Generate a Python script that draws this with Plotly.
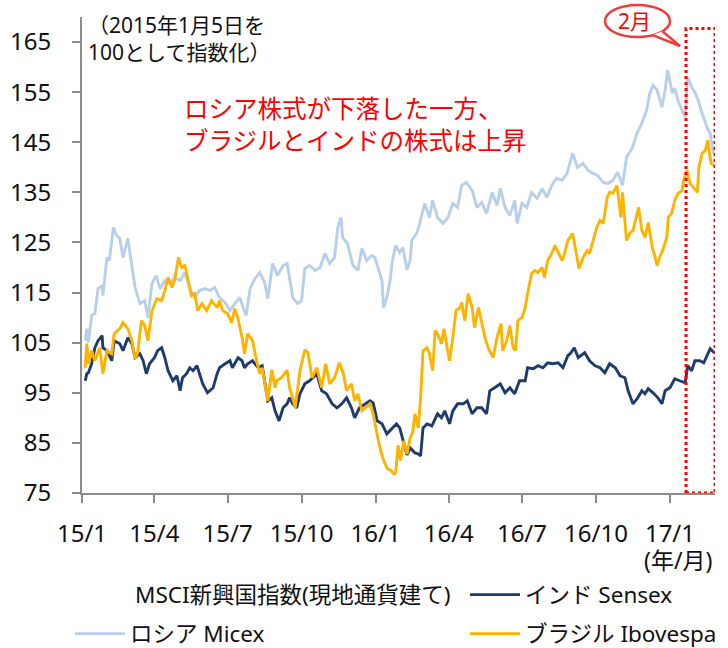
import pandas as pd
import plotly.graph_objects as go

BASE_DATE = "2015-01-01"

# Day offsets from 2015-01-01 and index values (2015/1/5 = 100)
micex_days = [4, 6, 8, 12, 16, 20, 25, 26, 31, 34, 39, 43, 47, 51, 57, 62, 66, 72, 78, 82,
              87, 92, 97, 103, 109, 115, 122, 128, 134, 140, 146, 153, 159, 165, 171, 178, 184, 190, 196, 204,
              209, 215, 221, 227, 231, 237, 243, 250, 255, 258, 262, 268, 273, 277, 283, 290, 296, 302, 308, 314,
              318, 322, 324, 330, 337, 343, 348, 354, 360, 364, 368, 373, 375, 379, 383, 386, 390, 395, 399, 404,
              408, 410, 416, 420, 426, 432, 436, 442, 449, 455, 461, 467, 472, 478, 485, 491, 497, 503, 510, 516,
              520, 526, 532, 538, 541, 547, 553, 559, 566, 572, 578, 584, 590, 597, 603, 610, 616, 623, 629, 635,
              641, 648, 654, 660, 666, 672, 677, 684, 690, 696, 702, 706, 710, 715, 721, 725, 728, 734, 737, 741,
              746, 750, 753, 758, 762, 766, 771, 777, 781, 785]
micex_vals = [105.4, 107.8, 105.0, 110.4, 110.8, 115.8, 116.4, 114.4, 122.0, 121.4, 128.0, 126.4, 125.8, 122.0, 125.8, 120.0, 116.0, 112.8, 113.4, 110.0,
              116.8, 118.4, 115.8, 117.4, 116.8, 118.0, 117.4, 119.0, 116.0, 114.0, 115.4, 115.8, 115.4, 116.0, 114.0, 113.0, 111.4, 112.8, 114.0, 110.4,
              115.8, 117.8, 119.0, 117.0, 113.8, 120.8, 118.4, 120.4, 120.8, 118.0, 114.0, 112.8, 113.4, 119.8, 120.4, 119.4, 120.0, 122.8, 120.8, 122.0,
              128.0, 130.0, 126.0, 124.8, 120.4, 119.4, 123.8, 121.4, 122.4, 122.0, 120.0, 117.4, 112.0, 114.0, 117.4, 121.4, 124.4, 123.0, 124.0, 119.6,
              121.4, 125.4, 126.8, 128.8, 132.8, 130.0, 133.4, 130.0, 128.8, 130.0, 132.8, 132.0, 136.4, 137.0, 135.4, 132.0, 133.0, 130.8, 135.0, 132.4,
              135.8, 132.0, 130.4, 133.4, 128.8, 132.8, 132.0, 135.0, 133.8, 135.8, 134.0, 136.4, 137.8, 137.4, 138.8, 142.8, 140.0, 140.8, 139.4, 138.8,
              138.4, 137.0, 136.8, 137.4, 139.0, 136.4, 142.0, 143.8, 146.8, 148.8, 151.4, 154.8, 156.4, 155.4, 152.0, 155.4, 159.4, 154.8, 155.8, 153.4,
              151.4, 150.0, 158.0, 156.0, 155.0, 153.4, 150.8, 148.0, 146.8, 142.8]

ibov_days = [4, 6, 8, 12, 16, 22, 26, 31, 37, 40, 47, 51, 57, 62, 66, 69, 74, 78, 82, 87,
             93, 99, 103, 107, 112, 115, 120, 124, 128, 131, 136, 140, 144, 149, 155, 161, 168, 171, 175, 181,
             186, 190, 194, 199, 202, 206, 212, 217, 221, 224, 227, 231, 236, 240, 242, 248, 255, 258, 262, 265,
             271, 277, 281, 286, 292, 298, 303, 308, 314, 320, 325, 329, 335, 339, 343, 348, 352, 358, 362, 365,
             369, 374, 379, 384, 388, 390, 393, 396, 400, 404, 408, 411, 414, 418, 421, 424, 429, 432, 436, 439,
             442, 447, 450, 454, 457, 461, 465, 470, 472, 476, 480, 485, 488, 493, 497, 501, 505, 511, 516, 521,
             523, 528, 532, 536, 539, 542, 547, 551, 554, 559, 563, 567, 572, 575, 579, 584, 588, 592, 597, 600,
             604, 610, 615, 618, 623, 628, 631, 635, 640, 644, 648, 653, 656, 660, 665, 667, 670, 672, 677, 681,
             685, 689, 692, 696, 700, 704, 709, 712, 715, 718, 722, 727, 729, 733, 737, 741, 746, 748, 752, 756,
             760, 765, 767, 771, 775, 778, 782, 786]
ibov_vals = [100.0, 104.8, 100.8, 103.4, 101.4, 104.0, 98.8, 103.4, 102.8, 106.8, 107.8, 109.0, 107.8, 105.4, 101.8, 102.8, 109.4, 108.4, 105.4, 111.4,
             113.8, 113.4, 115.4, 118.0, 116.0, 117.4, 122.0, 120.0, 120.4, 118.0, 114.4, 114.8, 111.4, 112.8, 111.4, 113.4, 112.0, 113.4, 111.4, 110.8,
             109.0, 111.8, 109.8, 106.0, 102.8, 106.8, 105.4, 101.4, 98.8, 100.0, 97.0, 93.4, 99.6, 96.0, 97.4, 98.0, 99.5, 96.0, 94.0, 92.0,
             99.4, 103.6, 103.0, 98.0, 100.0, 96.0, 100.8, 96.8, 98.0, 101.0, 98.8, 95.4, 96.8, 93.4, 94.8, 91.4, 92.0, 92.8, 90.8, 88.0,
             85.0, 82.0, 80.0, 79.5, 78.8, 79.0, 84.5, 81.5, 85.4, 82.8, 86.0, 87.0, 90.8, 88.0, 94.0, 103.4, 104.0, 102.8, 99.4, 107.4,
             106.8, 104.8, 107.8, 104.0, 101.4, 106.0, 111.4, 112.0, 113.0, 109.4, 114.8, 112.0, 108.0, 112.0, 108.8, 106.0, 104.0, 102.0, 106.0, 108.8,
             103.4, 105.4, 108.4, 104.0, 103.4, 109.4, 110.0, 112.0, 114.8, 118.8, 119.4, 119.0, 120.0, 118.0, 121.4, 122.8, 124.4, 123.0, 121.4, 122.8,
             125.4, 126.8, 122.0, 119.8, 122.0, 123.4, 122.8, 125.0, 128.0, 129.4, 128.8, 134.0, 135.0, 134.8, 136.4, 134.0, 130.0, 135.0, 125.4, 126.8,
             127.4, 130.0, 132.0, 127.4, 126.0, 129.0, 124.0, 122.4, 120.4, 122.0, 123.4, 126.0, 130.0, 130.8, 133.4, 134.8, 135.4, 137.4, 139.4, 136.8,
             136.0, 135.0, 140.0, 142.8, 143.4, 145.4, 140.8, 140.4]

sensex_days = [4, 6, 8, 12, 16, 20, 25, 26, 31, 37, 40, 47, 51, 57, 62, 66, 72, 76, 80, 84,
               90, 94, 99, 103, 107, 113, 118, 122, 125, 130, 134, 138, 143, 146, 150, 156, 163, 168, 171, 178,
               184, 187, 194, 199, 202, 206, 212, 219, 224, 227, 231, 236, 240, 245, 250, 255, 258, 262, 267, 271,
               277, 283, 287, 292, 298, 304, 311, 317, 323, 329, 335, 339, 345, 352, 358, 362, 367, 373, 379, 385,
               391, 395, 399, 404, 408, 414, 418, 421, 424, 429, 435, 439, 442, 447, 451, 457, 461, 467, 474, 479,
               485, 491, 497, 503, 507, 513, 520, 526, 532, 538, 544, 551, 554, 561, 567, 573, 579, 585, 592, 598,
               604, 607, 612, 617, 625, 631, 638, 644, 650, 656, 663, 669, 675, 679, 685, 691, 696, 700, 704, 710,
               716, 721, 725, 731, 737, 743, 750, 753, 758, 762, 768, 773, 777, 781, 786]
sensex_vals = [97.4, 98.8, 99.0, 100.8, 104.0, 105.4, 106.4, 104.0, 103.4, 101.4, 105.4, 104.8, 103.4, 106.0, 104.8, 102.0, 102.8, 101.4, 98.8, 100.8,
               102.0, 103.4, 104.0, 102.0, 99.4, 97.4, 98.4, 95.4, 98.0, 98.8, 100.0, 99.4, 100.4, 98.8, 96.8, 95.0, 96.0, 98.8, 100.0, 100.8,
               101.4, 100.0, 102.0, 101.4, 100.0, 100.8, 101.4, 100.0, 100.4, 97.4, 93.4, 94.0, 91.4, 89.4, 92.0, 92.8, 94.0, 92.8, 92.0, 94.8,
               96.8, 97.4, 98.0, 98.8, 95.4, 94.8, 92.8, 92.0, 92.8, 94.0, 92.0, 90.0, 92.0, 92.8, 93.4, 93.0, 89.4, 88.8, 86.8, 87.8,
               88.8, 88.0, 85.4, 82.6, 84.0, 83.0, 82.8, 82.4, 88.0, 88.8, 88.4, 90.0, 90.8, 90.0, 91.4, 88.8, 91.4, 92.8, 92.8, 93.4,
               90.8, 92.0, 92.0, 90.8, 95.4, 96.0, 96.8, 95.0, 96.0, 94.8, 97.4, 97.4, 100.0, 99.8, 100.4, 100.0, 101.0, 100.8, 101.0, 100.0,
               102.4, 102.8, 104.0, 102.0, 103.0, 101.4, 100.4, 100.0, 99.0, 100.8, 100.0, 98.4, 98.0, 95.4, 92.8, 94.0, 95.4, 94.8, 95.8, 95.0,
               94.0, 92.8, 95.4, 96.0, 97.8, 97.4, 97.0, 100.4, 99.4, 101.4, 101.4, 101.0, 102.4, 103.8, 103.0]

# MSCI EM index: not drawn in the reference (only its legend entry); base value on 2015/1/5
msci_days = [4]
msci_vals = [100.0]

tick_dates = ["2015-01-01", "2015-04-01", "2015-07-01", "2015-10-01", "2016-01-01",
              "2016-04-01", "2016-07-01", "2016-10-01", "2017-01-01"]
tick_labels = ["15/1", "15/4", "15/7", "15/10", "16/1", "16/4", "16/7", "16/10", "17/1"]
y_ticks = [75, 85, 95, 105, 115, 125, 135, 145, 155, 165]

names = {
    "msci": "MSCI新興国指数(現地通貨建て)",
    "sensex": "インド Sensex",
    "micex": "ロシア Micex",
    "ibov": "ブラジル Ibovespa",
}

base = pd.Timestamp(BASE_DATE)


def to_dates(days):
    return base + pd.to_timedelta(days, unit="D")


FONT = "Noto Sans, Noto Sans CJK JP, sans-serif"
AXIS_GREY = "#8C8C8C"
RED = "#FF0000"

fig = go.Figure()
fig.add_trace(go.Scatter(x=to_dates(msci_days), y=msci_vals, mode="lines", name=names["msci"],
                         line=dict(color="rgba(255,255,255,0)", width=3), legend="legend",
                         hoverinfo="skip"))
fig.add_trace(go.Scatter(x=to_dates(sensex_days), y=sensex_vals, mode="lines", name=names["sensex"],
                         line=dict(color="#1F3B6B", width=2.9), legend="legend2"))
fig.add_trace(go.Scatter(x=to_dates(micex_days), y=micex_vals, mode="lines", name=names["micex"],
                         line=dict(color="#B7CFEA", width=2.9), legend="legend3"))
fig.add_trace(go.Scatter(x=to_dates(ibov_days), y=ibov_vals, mode="lines", name=names["ibov"],
                         line=dict(color="#FFB300", width=2.9), legend="legend4"))

L, R, T, B = 82, 13, 17, 155
W, H = 728, 648
PW, PH = W - L - R, H - T - B


def px(xp):
    return (xp - L) / PW


def py(yp):
    return (H - B - yp) / PH


legend_common = dict(orientation="h", xanchor="left", yanchor="middle",
                     font=dict(family=FONT, size=22.5, color="#111111"),
                     bgcolor="rgba(0,0,0,0)", itemwidth=50)

fig.update_layout(
    width=W, height=H,
    showlegend=True,
    margin=dict(l=L, r=R, t=T, b=B, pad=0, autoexpand=False),
    paper_bgcolor="white", plot_bgcolor="white",
    font=dict(family=FONT, color="#111111"),
    xaxis=dict(type="date", range=["2015-01-01", "2017-02-26"],
               tickmode="array", tickvals=tick_dates, ticktext=tick_labels,
               showline=True, linecolor=AXIS_GREY, linewidth=2,
               ticks="outside", ticklen=8, tickwidth=2, tickcolor=AXIS_GREY,
               tickfont=dict(family=FONT, size=24, color="#111111"),
               ticklabelstandoff=10, showgrid=False, zeroline=False, automargin=False),
    yaxis=dict(range=[75, 170], tickmode="array", tickvals=y_ticks,
               showline=True, linecolor=AXIS_GREY, linewidth=2,
               ticks="outside", ticklen=8, tickwidth=2, tickcolor=AXIS_GREY,
               tickfont=dict(family=FONT, size=24, color="#111111"),
               ticklabelstandoff=16, showgrid=False, zeroline=False, automargin=False),
    legend=dict(x=px(75), y=py(595), **legend_common),
    legend2=dict(x=px(465), y=py(595), **legend_common),
    legend3=dict(x=px(70), y=py(634), **legend_common),
    legend4=dict(x=px(465), y=py(634), **legend_common),
)

# annotations
fig.add_annotation(x=px(86), y=py(38.5), xref="paper", yref="paper", xanchor="left", yanchor="middle",
                   text="（2015年1月5日を<br>100として指数化）", showarrow=False, align="left",
                   font=dict(family=FONT, size=21, color="#111111"))
fig.add_annotation(x=px(182), y=py(124.5), xref="paper", yref="paper", xanchor="left", yanchor="middle",
                   text="ロシア株式が下落した一方、<br>ブラジルとインドの株式は上昇", showarrow=False, align="left",
                   font=dict(family=FONT, size=24.5, color=RED))
fig.add_annotation(x=px(714), y=py(560), xref="paper", yref="paper", xanchor="right", yanchor="middle",
                   text="(年/月)", showarrow=False, font=dict(family=FONT, size=23, color="#111111"))

# dotted box highlighting February
fig.add_shape(type="rect", xref="x", yref="y", x0="2017-01-21", x1="2017-02-26", y0=75, y1=167.7,
              line=dict(color=RED, width=3, dash="dot"), fillcolor="rgba(0,0,0,0)", layer="above")

# speech bubble "2月"
fig.add_shape(type="circle", xref="paper", yref="paper",
              x0=px(605), x1=px(670), y0=py(37), y1=py(5),
              line=dict(color="#F03C3C", width=2.5), fillcolor="white", layer="above")
fig.add_shape(type="path", xref="paper", yref="paper",
              path=f"M {px(662.4)},{py(31.3)} L {px(680)},{py(46)} L {px(652.8)},{py(35.1)}",
              line=dict(color="#F03C3C", width=2.5), fillcolor="white", layer="above")
fig.add_annotation(x=px(634), y=py(21), xref="paper", yref="paper", xanchor="center", yanchor="middle",
                   text="2月", showarrow=False, font=dict(family=FONT, size=21, color=RED))

fig.write_html("out.html", config={"displayModeBar": False},
               post_script="document.body.style.margin='0';document.body.style.overflow='hidden';")
